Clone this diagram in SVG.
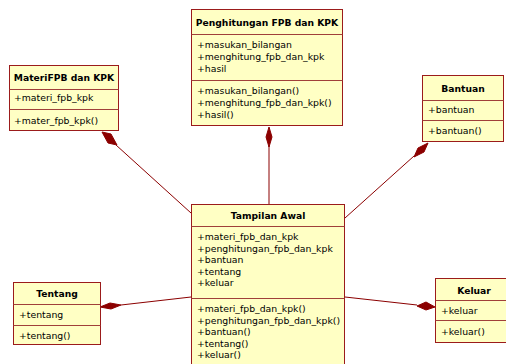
<svg xmlns="http://www.w3.org/2000/svg" width="506" height="364" viewBox="0 0 506 364">
  <defs>
    <style>
      .box { fill: #FFFFC4; stroke: #9B1B1B; stroke-width: 1; }
      .div { stroke: #A0403A; stroke-width: 1; }
      .title { font-family: "DejaVu Sans", "Liberation Sans", sans-serif; font-size: 9.2px; font-weight: bold; fill: #000; text-anchor: middle; }
      .item { font-family: "DejaVu Sans", "Liberation Sans", sans-serif; font-size: 9.3px; fill: #000; }
      .conn { stroke: #8B0000; stroke-width: 1; fill: none; }
      .diamond { fill: #8B0000; stroke: #8B0000; stroke-width: 1; }
    </style>
  </defs>

  <!-- composition connectors -->
  <g id="connectors">
    <line class="conn" x1="116" y1="145" x2="191" y2="213"/>
    <polygon class="diamond" points="102,132 111,134 117,145 108,143"/>

    <line class="conn" x1="269" y1="146" x2="269" y2="204"/>
    <polygon class="diamond" points="269,127 272,137 269,147 266,137"/>

    <line class="conn" x1="414" y1="156" x2="345" y2="218"/>
    <polygon class="diamond" points="428,143 424,152 414,157 418,148"/>

    <line class="conn" x1="121" y1="305" x2="191" y2="297"/>
    <polygon class="diamond" points="100,307 110,303 121,305 111,309"/>

    <line class="conn" x1="345" y1="297" x2="417" y2="305"/>
    <polygon class="diamond" points="435,307 426,310 417,306 426,302"/>
  </g>

  <g id="materi">
    <rect class="box" x="9.5" y="65.5" width="109" height="65"/>
    <line class="div" x1="9.5" y1="89.5" x2="118.5" y2="89.5"/>
    <line class="div" x1="9.5" y1="109.5" x2="118.5" y2="109.5"/>
    <text class="title" x="64" y="81">MateriFPB dan KPK</text>
    <text class="item" x="14" y="101">+materi_fpb_kpk</text>
    <text class="item" x="14" y="124">+mater_fpb_kpk()</text>
  </g>

  <g id="penghitungan">
    <rect class="box" x="191.5" y="9.5" width="151" height="116"/>
    <line class="div" x1="191.5" y1="34.5" x2="342.5" y2="34.5"/>
    <line class="div" x1="191.5" y1="80.5" x2="342.5" y2="80.5"/>
    <text class="title" x="267" y="26">Penghitungan FPB dan KPK</text>
    <text class="item" x="197" y="48">+masukan_bilangan</text>
    <text class="item" x="197" y="60">+menghitung_fpb_dan_kpk</text>
    <text class="item" x="197" y="72">+hasil</text>
    <text class="item" x="197" y="94">+masukan_bilangan()</text>
    <text class="item" x="197" y="106">+menghitung_fpb_dan_kpk()</text>
    <text class="item" x="197" y="118">+hasil()</text>
  </g>

  <g id="bantuan">
    <rect class="box" x="422.5" y="75.5" width="81" height="66"/>
    <line class="div" x1="422.5" y1="100.5" x2="503.5" y2="100.5"/>
    <line class="div" x1="422.5" y1="120.5" x2="503.5" y2="120.5"/>
    <text class="title" x="463" y="92">Bantuan</text>
    <text class="item" x="428" y="113">+bantuan</text>
    <text class="item" x="428" y="134">+bantuan()</text>
  </g>

  <g id="tampilan-awal">
    <rect class="box" x="191.5" y="204.5" width="153" height="170"/>
    <line class="div" x1="191.5" y1="226.5" x2="344.5" y2="226.5"/>
    <line class="div" x1="191.5" y1="298.5" x2="344.5" y2="298.5"/>
    <text class="title" x="268" y="219">Tampilan Awal</text>
    <text class="item" x="197" y="240">+materi_fpb_dan_kpk</text>
    <text class="item" x="197" y="251.5">+penghitungan_fpb_dan_kpk</text>
    <text class="item" x="197" y="263">+bantuan</text>
    <text class="item" x="197" y="274.5">+tentang</text>
    <text class="item" x="197" y="286">+keluar</text>
    <text class="item" x="197" y="312">+materi_fpb_dan_kpk()</text>
    <text class="item" x="197" y="323.5">+penghitungan_fpb_dan_kpk()</text>
    <text class="item" x="197" y="335">+bantuan()</text>
    <text class="item" x="197" y="346.5">+tentang()</text>
    <text class="item" x="197" y="358">+keluar()</text>
  </g>

  <g id="tentang">
    <rect class="box" x="13.5" y="282.5" width="87" height="62"/>
    <line class="div" x1="13.5" y1="304.5" x2="100.5" y2="304.5"/>
    <line class="div" x1="13.5" y1="325.5" x2="100.5" y2="325.5"/>
    <text class="title" x="57" y="297">Tentang</text>
    <text class="item" x="19" y="318">+tentang</text>
    <text class="item" x="19" y="339">+tentang()</text>
  </g>

  <g id="keluar">
    <rect class="box" x="435.5" y="278.5" width="75" height="64"/>
    <line class="div" x1="435.5" y1="300.5" x2="510.5" y2="300.5"/>
    <line class="div" x1="435.5" y1="320.5" x2="510.5" y2="320.5"/>
    <text class="title" x="474" y="294">Keluar</text>
    <text class="item" x="441" y="314">+keluar</text>
    <text class="item" x="441" y="335">+keluar()</text>
  </g>
</svg>
